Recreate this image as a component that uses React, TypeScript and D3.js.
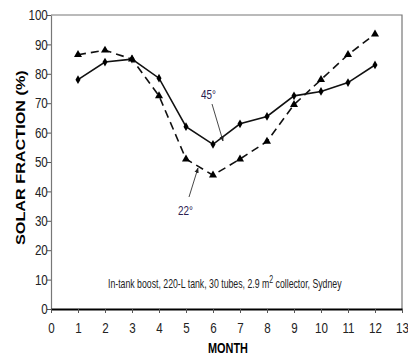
import * as d3 from "d3";
import { useEffect, useRef } from "react";

const months = [1, 2, 3, 4, 5, 6, 7, 8, 9, 10, 11, 12];
const tilt45 = [78, 84, 85, 78.5, 62, 56, 63, 65.5, 72.5, 74, 77, 83];
const tilt22 = [86.5, 88, 85, 72.5, 51, 45.5, 51, 57, 69.5, 78, 86.5, 93.5];
const xTicks = d3.range(0, 14);
const yTicks = [0, 10, 20, 30, 40, 50, 60, 70, 80, 90, 100];

const sans = "'Liberation Sans', Arial, sans-serif";

export default function App() {
  const ref = useRef<SVGSVGElement>(null);

  useEffect(() => {
    const width = 408;
    const height = 358;
    const svg = d3.select(ref.current).attr("width", width).attr("height", height);
    svg.selectAll("*").remove();

    const x = d3.scaleLinear().domain([0, 13]).range([51, 402]);
    const y = d3.scaleLinear().domain([0, 100]).range([309, 15]);

    svg.append("rect").attr("width", width).attr("height", height).attr("fill", "#fff");

    // squeeze a text (placed at 0,0 in its own group) to a given width
    function label(gx: number, gy: number, target: number, rotate = 0) {
      const g = svg.append("g");
      const t = g.append("text").attr("font-family", sans);
      return {
        t,
        done() {
          const w = (t.node() as SVGTextElement).getComputedTextLength();
          g.attr("transform", `translate(${gx},${gy}) rotate(${rotate}) scale(${target / w},1)`);
        },
      };
    }

    // frame (top + right, grey)
    svg.append("path")
      .attr("d", `M${x(0)},${y(100)}H${x(13)}V${y(0)}`)
      .attr("fill", "none")
      .attr("stroke", "#777")
      .attr("stroke-width", 1.2);

    // y axis
    const yAxis = svg.append("g")
      .attr("transform", `translate(${x(0)},0)`)
      .call(d3.axisLeft(y).tickValues(yTicks).tickSize(4).tickSizeOuter(0));
    yAxis.select(".domain").attr("stroke", "#777").attr("stroke-width", 1.2);
    yAxis.selectAll(".tick line").attr("stroke", "#555");
    yAxis.selectAll(".tick text")
      .attr("font-family", sans)
      .attr("font-size", 14.5)
      .attr("fill", "#222")
      .attr("x", -4)
      .attr("transform", "scale(0.8,1)");

    // x axis
    const xAxis = svg.append("g")
      .attr("transform", `translate(0,${y(0)})`)
      .call(d3.axisBottom(x).tickValues(xTicks).tickSize(4).tickSizeOuter(0));
    xAxis.select(".domain").attr("stroke", "#000").attr("stroke-width", 2);
    xAxis.selectAll(".tick line").attr("stroke", "#555");
    xAxis.selectAll(".tick text")
      .attr("font-family", sans)
      .attr("font-size", 14.5)
      .attr("fill", "#222")
      .attr("y", 14)
      .attr("transform", "scale(0.8,1)");

    // titles
    const mt = label(208, 353, 40);
    mt.t.attr("font-weight", "bold").attr("font-size", 15).text("MONTH");
    mt.done();

    const yt = label(25, 245, 175, -90);
    yt.t.attr("font-weight", "bold").attr("font-size", 12.5).text("SOLAR FRACTION (%)");
    yt.done();

    // lines
    const line = d3.line<number>().x((_, i) => x(months[i])).y(d => y(d));

    svg.append("path")
      .datum(tilt22)
      .attr("d", line)
      .attr("fill", "none")
      .attr("stroke", "#111")
      .attr("stroke-width", 1.6)
      .attr("stroke-dasharray", "8,5");

    svg.append("path")
      .datum(tilt45)
      .attr("d", line)
      .attr("fill", "none")
      .attr("stroke", "#111")
      .attr("stroke-width", 1.6);

    svg.selectAll("path.tri")
      .data(tilt22)
      .enter()
      .append("path")
      .attr("class", "tri")
      .attr("d", d3.symbol(d3.symbolTriangle, 28))
      .attr("transform", (d, i) => `translate(${x(months[i])},${y(d)})`)
      .attr("fill", "#000");

    svg.selectAll("path.dia")
      .data(tilt45)
      .enter()
      .append("path")
      .attr("class", "dia")
      .attr("d", d3.symbol(d3.symbolDiamond, 22))
      .attr("transform", (d, i) => `translate(${x(months[i])},${y(d)})`)
      .attr("fill", "#000");

    // annotations
    const defs = svg.append("defs");
    defs.append("marker")
      .attr("id", "arr")
      .attr("viewBox", "0 0 10 10")
      .attr("refX", 9)
      .attr("refY", 5)
      .attr("markerWidth", 6)
      .attr("markerHeight", 6)
      .attr("orient", "auto")
      .append("path")
      .attr("d", "M0,1L10,5L0,9z")
      .attr("fill", "#222");

    const a45 = label(201, 99, 15);
    a45.t.attr("font-size", 13).attr("fill", "#2a2050").text("45°");
    a45.done();
    svg.append("line")
      .attr("x1", 212).attr("y1", 104)
      .attr("x2", 223).attr("y2", 141)
      .attr("stroke", "#333").attr("stroke-width", 0.9)
      .attr("marker-end", "url(#arr)");

    const a22 = label(178, 215, 15);
    a22.t.attr("font-size", 13).attr("fill", "#2a2050").text("22°");
    a22.done();
    svg.append("line")
      .attr("x1", 189).attr("y1", 197)
      .attr("x2", 198).attr("y2", 168)
      .attr("stroke", "#333").attr("stroke-width", 0.9)
      .attr("marker-end", "url(#arr)");

    const nt = label(108, 288, 234);
    nt.t.attr("font-size", 12.5).attr("fill", "#222");
    nt.t.append("tspan").text("In-tank boost, 220-L tank, 30 tubes, 2.9 m");
    nt.t.append("tspan").attr("dy", -5).attr("font-size", 10).text("2");
    nt.t.append("tspan").attr("dy", 5).text(" collector, Sydney");
    nt.done();
  }, []);

  return (
    <div style={{ position: "absolute", left: 0, top: 0 }}>
      <svg ref={ref} style={{ display: "block" }} />
    </div>
  );
}
